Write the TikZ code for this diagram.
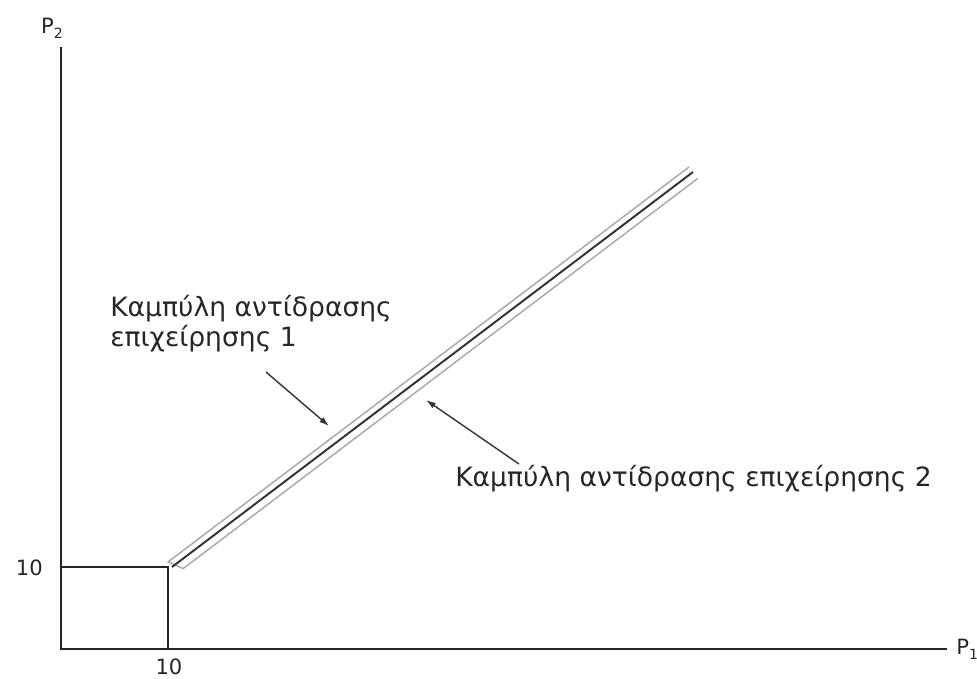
\documentclass[tikz,border=0pt]{standalone}
\usepackage{fontspec}
\setmainfont{DejaVu Sans}
\usepackage{tikz}
\usetikzlibrary{calc,arrows.meta}
\tikzset{
    axis/.style={line width=1.3pt, draw=black!85}
}
\tikzset{
    bandline/.style={line width=1pt, draw=black!35},
    curveline/.style={line width=1.4pt, draw=black!80}
}
\tikzset{
    pointer/.style={line width=1pt, draw=black!80, -{Latex[length=7pt,width=4.5pt]}},
    lbl/.style={font=\fontsize{18.9}{21.5}\selectfont, text=black!85, inner sep=0pt}
}
\begin{document}
\begin{tikzpicture}[x=0.025cm,y=-0.025cm]
    \useasboundingbox (0,0) rectangle (977,678);

    \coordinate (O) at (61,649);
    \coordinate (ytop) at (61,47);
    \coordinate (xend) at (947,649);
    \coordinate (corner) at (168,567);

    % axes and the small square
    \draw[axis] (ytop) -- (O) -- (xend);
    \draw[axis] (O |- corner) -- (corner) -- (corner |- O);

    \node[lbl, anchor=base, font=\fontsize{15}{15}\selectfont] (ylab) at (52,33) {P\raisebox{-0.45ex}{\fontsize{10}{10}\selectfont 2}};
    \node[lbl, anchor=base west, font=\fontsize{15}{15}\selectfont] (xlab) at (956,654) {P\raisebox{-0.45ex}{\fontsize{10}{10}\selectfont 1}};
    \node[lbl, anchor=east, font=\fontsize{15}{15}\selectfont] (ytick) at (43,568) {10};
    \node[lbl, anchor=south, font=\fontsize{15}{15}\selectfont] (xtick) at (169,675) {10};

    % reaction curves
    \coordinate (lowA) at (172,567);
    \coordinate (highA) at (693,172);
    \coordinate (u0) at ($(lowA)!0.16cm!90:(highA)$);
    \coordinate (u1) at ($(highA)!0.16cm!-90:(lowA)$);
    \coordinate (l0) at ($($(lowA)!0.2cm!(highA)$)!0.2cm!-90:(highA)$);
    \coordinate (l1) at ($(highA)!0.2cm!90:(lowA)$);
    \draw[bandline] (u1) -- (u0) -- (l0) -- (l1);
    \draw[curveline] (lowA) -- (highA);

    \node[lbl, anchor=north west, align=left] (lab1) at (110,295) {Καμπύλη αντίδρασης\\επιχείρησης 1};
    \node[lbl, anchor=west] (lab2) at (455,479) {Καμπύλη αντίδρασης επιχείρησης 2};

    \coordinate (a1s) at (266,372);
    \coordinate (a1e) at (329,426);
    \coordinate (a2s) at (519,464);
    \coordinate (a2e) at (426,400);
    \draw[pointer] (a1s) -- (a1e);
    \draw[pointer] (a2s) -- (a2e);

\end{tikzpicture}
\end{document}
